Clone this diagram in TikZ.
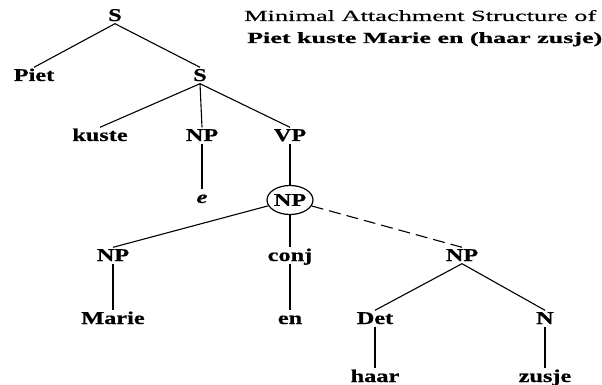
\documentclass[tikz,border=0pt]{standalone}
\usepackage{fontspec}
\setmainfont{Liberation Serif}
\newfontfamily\labfont{Liberation Serif}[FakeStretch=1.35, FakeBold=0.6]
\newfontfamily\ttlfont{Liberation Serif}[FakeStretch=1.7, FakeBold=0.3]
\newfontfamily\ttlbfont{Liberation Serif}[FakeStretch=1.68, FakeBold=0.8]
\usetikzlibrary{shapes.geometric}
\begin{document}
\begin{tikzpicture}[x=1pt,y=-1pt,
  lab/.style={font=\labfont\fontsize{18}{18}\selectfont\bfseries, inner sep=1.5pt, text height=12pt, text depth=1pt, anchor=base},
  ttl/.style={font=\ttlfont\fontsize{15.5}{15.5}\selectfont, inner sep=0pt, anchor=base west},
  edge/.style={line width=1.1pt},
  dedge/.style={line width=1.1pt, dash pattern=on 12pt off 6pt}]
\fill[white] (0,0) rectangle (602,385);
\useasboundingbox (0,0) rectangle (602,385);
% title
\node[ttl] (t1) at (244,21) {Minimal Attachment Structure of};
\node[ttl, font=\ttlbfont\fontsize{15.5}{15.5}\selectfont\bfseries] (t2) at (247,43) {Piet kuste Marie en (haar zusje)};
% tree
\node[lab] (S) at (115,21) {S};
\node[lab] (piet) at (34,81) {Piet};
\node[lab] (S2) at (200,81) {S};
\node[lab] (kuste) at (100,141) {kuste};
\node[lab] (np1) at (202,141) {NP};
\node[lab] (vp) at (290,141) {VP};
\node[lab, font=\labfont\fontsize{18}{18}\selectfont\bfseries\itshape] (e) at (202,203) {e};
\node[draw, ellipse, line width=1.2pt, minimum width=46pt, minimum height=29pt, inner sep=0pt,
      font=\labfont\fontsize{18}{18}\selectfont\bfseries] (npc) at (290,200) {NP};
\node[lab] (npm) at (113,261) {NP};
\node[lab] (conj) at (290,261) {conj};
\node[lab] (npr) at (462,261) {NP};
\node[lab] (marie) at (113,324) {Marie};
\node[lab] (en) at (290,324) {en};
\node[lab] (det) at (375,324) {Det};
\node[lab] (n) at (545,324) {N};
\node[lab] (haar) at (375,382) {haar};
\node[lab] (zusje) at (545,382) {zusje};
% edges
\draw[edge] (S.south) -- (piet.north);
\draw[edge] (S.south) -- (S2.north);
\draw[edge] (S2.south) -- (kuste.north);
\draw[edge] (S2.south) -- (np1.north);
\draw[edge] (S2.south) -- (vp.north);
\draw[edge] (np1.south) -- (e.north);
\draw[edge] (vp.south) -- (npc.north);
\draw[edge] (npc) -- (npm.north);
\draw[edge] (npc.south) -- (conj.north);
\draw[dedge] (npc) -- (npr.north);
\draw[edge] (npm.south) -- (marie.north);
\draw[edge] (conj.south) -- (en.north);
\draw[edge] (npr.south) -- (det.north);
\draw[edge] (npr.south) -- (n.north);
\draw[edge] (det.south) -- (haar.north);
\draw[edge] (n.south) -- (zusje.north);
\end{tikzpicture}
\end{document}
